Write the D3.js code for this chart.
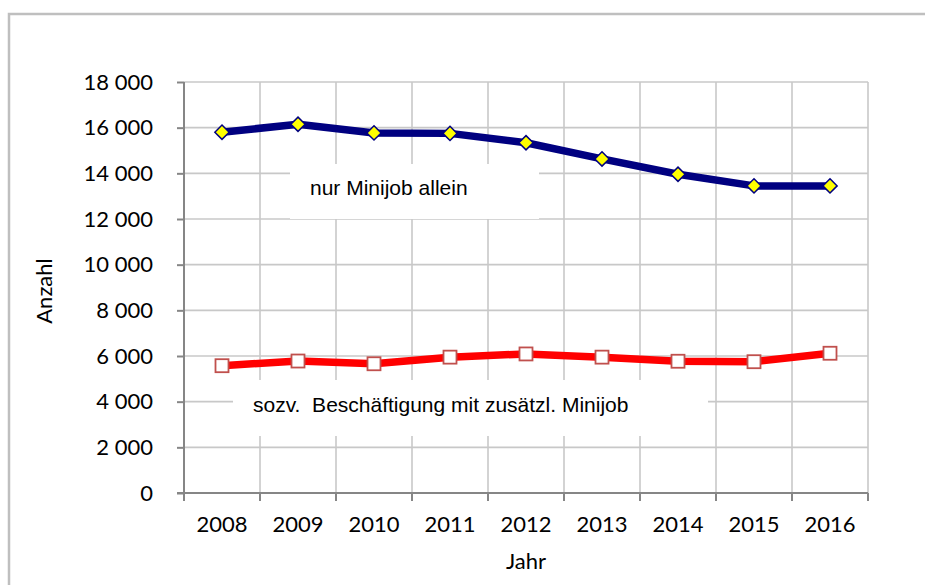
<!DOCTYPE html>
<html>
<head>
<meta charset="utf-8">
<script src="https://cdn.jsdelivr.net/npm/d3@7"></script>
<style>
  body { margin: 0; background: #fff; overflow: hidden; }
  svg { display: block; }
</style>
</head>
<body>
<svg id="chart" width="925" height="585"></svg>
<script>
// data
const years = ["2008", "2009", "2010", "2011", "2012", "2013", "2014", "2015", "2016"];
const minijobOnly = [15800, 16150, 15770, 15750, 15340, 14630, 13960, 13450, 13450];
const withMinijob = [5575, 5780, 5660, 5950, 6090, 5950, 5770, 5750, 6120];
const yTicks = [0, 2000, 4000, 6000, 8000, 10000, 12000, 14000, 16000, 18000];

const svg = d3.select("#chart");
const plotL = 184, plotR = 868, plotT = 82, plotB = 493;

const x = d3.scaleBand().domain(years).range([plotL, plotR]).padding(0);
const y = d3.scaleLinear().domain([0, 18000]).range([plotB, plotT]);

const de = d3.formatLocale({ decimal: ",", thousands: " ", grouping: [3], currency: ["", " €"] });
const fmt = de.format(",d");

const gridColor = "#c8c8c8";
const axisColor = "#868686";

// outer chart frame (only top and left edges fall inside the picture)
svg.append("path")
  .attr("d", "M9,585V14H925")
  .attr("fill", "none")
  .attr("stroke", "#bfbfbf")
  .attr("stroke-width", 2.5);

// gridlines
const grid = svg.append("g");
grid.selectAll(".hgrid")
  .data(yTicks.filter(d => d > 0))
  .enter()
  .append("line")
  .attr("x1", plotL).attr("x2", plotR)
  .attr("y1", d => y(d)).attr("y2", d => y(d))
  .attr("stroke", gridColor)
  .attr("stroke-width", 1.6);

const bounds = years.slice(1).map(d => x(d)).concat([plotR]);
grid.selectAll(".vgrid")
  .data(bounds)
  .enter()
  .append("line")
  .attr("x1", d => d).attr("x2", d => d)
  .attr("y1", plotT).attr("y2", plotB)
  .attr("stroke", gridColor)
  .attr("stroke-width", 1.6);

// white label boxes that hide the grid
const labels = [
  { text: "nur Minijob allein", x0: 290, x1: 539, y0: 164, y1: 219, base: 195 },
  { text: "sozv.  Beschäftigung mit zusätzl. Minijob", x0: 233, x1: 708, y0: 380, y1: 436, base: 412 }
];
svg.selectAll(".lblbox")
  .data(labels)
  .enter()
  .append("rect")
  .attr("x", d => d.x0).attr("y", d => d.y0)
  .attr("width", d => d.x1 - d.x0).attr("height", d => d.y1 - d.y0)
  .attr("fill", "#fff");
svg.selectAll(".lbl")
  .data(labels)
  .enter()
  .append("text")
  .attr("x", d => d.x0 + 20)
  .attr("y", d => d.base)
  .attr("font-family", "'Liberation Sans', Arial, sans-serif")
  .attr("font-size", 21)
  .attr("fill", "#000")
  .style("white-space", "pre")
  .text(d => d.text);

// axes
const yAxis = svg.append("g").attr("transform", `translate(${plotL},0)`)
  .call(d3.axisLeft(y).tickValues(yTicks).tickSize(7).tickPadding(24).tickFormat(fmt));
const xAxis = svg.append("g").attr("transform", `translate(0,${plotB})`)
  .call(d3.axisBottom(x).tickSize(0).tickPadding(24));

[yAxis, xAxis].forEach(g => {
  g.select(".domain").attr("stroke", axisColor).attr("stroke-width", 2);
  g.selectAll(".tick line").attr("stroke", axisColor).attr("stroke-width", 2);
  g.selectAll("text")
    .attr("font-family", "Lato, 'Open Sans', sans-serif")
    .attr("font-size", 22)
    .attr("fill", "#000");
});
yAxis.select(".domain").attr("d", `M0,${plotB}V${plotT}`);
xAxis.select(".domain").attr("d", `M${plotL - 7},0H${plotR}`);
xAxis.selectAll("text").attr("dy", "0.71em").attr("y", 23);

// x tick marks at category boundaries
xAxis.selectAll(".btick")
  .data([plotL].concat(bounds))
  .enter()
  .append("line")
  .attr("x1", d => d).attr("x2", d => d)
  .attr("y1", 0).attr("y2", 8)
  .attr("stroke", axisColor)
  .attr("stroke-width", 2);

// axis titles
svg.append("text")
  .attr("transform", "translate(52,291) rotate(-90)")
  .attr("text-anchor", "middle")
  .attr("font-family", "Lato, 'Open Sans', sans-serif")
  .attr("font-size", 22)
  .text("Anzahl");
svg.append("text")
  .attr("x", (plotL + plotR) / 2)
  .attr("y", 569)
  .attr("text-anchor", "middle")
  .attr("font-family", "Lato, 'Open Sans', sans-serif")
  .attr("font-size", 22)
  .text("Jahr");

// series
const cx = d => x(d) + x.bandwidth() / 2;
const line = d3.line().x(d => cx(d[0])).y(d => y(d[1]));

const blue = d3.zip(years, minijobOnly);
const red = d3.zip(years, withMinijob);

svg.append("path").datum(blue)
  .attr("d", line)
  .attr("fill", "none")
  .attr("stroke", "#000080")
  .attr("stroke-width", 7.5)
  .attr("stroke-linejoin", "round");

svg.append("path").datum(red)
  .attr("d", line)
  .attr("fill", "none")
  .attr("stroke", "#ff0000")
  .attr("stroke-width", 7.5)
  .attr("stroke-linejoin", "round");

svg.selectAll(".diamond")
  .data(blue)
  .enter()
  .append("path")
  .attr("d", d3.symbol().type(d3.symbolDiamond2).size(130))
  .attr("transform", d => `translate(${cx(d[0])},${y(d[1])})`)
  .attr("fill", "#ffff00")
  .attr("stroke", "#000080")
  .attr("stroke-width", 1.5);

svg.selectAll(".square")
  .data(red)
  .enter()
  .append("rect")
  .attr("x", d => cx(d[0]) - 6.5)
  .attr("y", d => y(d[1]) - 6.5)
  .attr("width", 13).attr("height", 13)
  .attr("fill", "#fff")
  .attr("stroke", "#c0504d")
  .attr("stroke-width", 1.8);
</script>
</body>
</html>
